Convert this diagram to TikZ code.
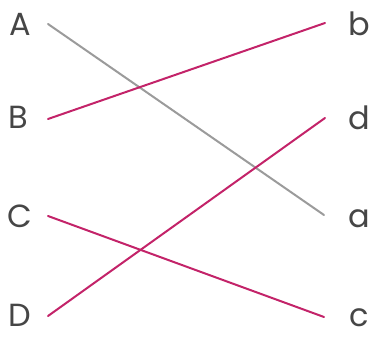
\documentclass[tikz,border=0pt]{standalone}
\usepackage{fontspec}
\setmainfont{Poppins}
\newfontfamily\altpop[StylisticSet=1]{Poppins}
\definecolor{txt}{RGB}{70,70,70}
\definecolor{grayline}{RGB}{155,155,155}
\definecolor{magline}{RGB}{195,35,105}
\begin{document}
\begin{tikzpicture}[x=1pt,y=-1pt,
  lbl/.style={text=txt,font=\fontsize{32}{32}\selectfont,inner sep=0pt,anchor=base},
  conn/.style={line width=2pt,line cap=round}]
\useasboundingbox (0,0) rectangle (376,337);
\node[lbl] (A) at (20,36) {A};
\node[lbl] (B) at (18,129) {B};
\node[lbl] (C) at (20,228) {C};
\node[lbl] (D) at (20,327) {D};
\node[lbl] (b) at (359,36) {b};
\node[lbl] (d) at (359,130) {d};
\node[lbl] (a) at (359,228) {\altpop a};
\node[lbl] (c) at (359,327) {c};
\coordinate (As) at (48,24);
\coordinate (Bs) at (48,119);
\coordinate (Cs) at (48,216);
\coordinate (Ds) at (48,316);
\coordinate (be) at (325,23);
\coordinate (de) at (325,118);
\coordinate (ae) at (324,215);
\coordinate (ce) at (324,317);
\draw[conn,grayline] (As) -- (ae);
\draw[conn,magline] (Bs) -- (be);
\draw[conn,magline] (Cs) -- (ce);
\draw[conn,magline] (Ds) -- (de);
\end{tikzpicture}
\end{document}
